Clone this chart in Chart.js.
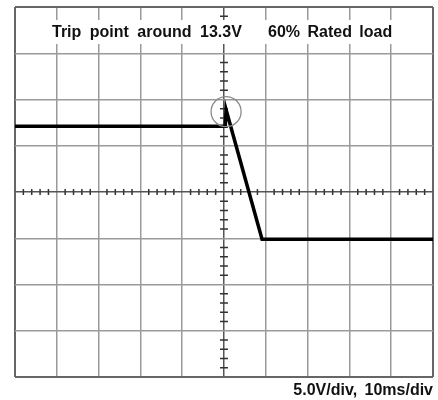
<!DOCTYPE html>
<html>
<head>
<meta charset="utf-8">
<script src="https://cdn.jsdelivr.net/npm/chart.js@4.4.1/dist/chart.umd.min.js"></script>
<style>
  html, body { margin: 0; padding: 0; background: #fff; }
  #wrap { width: 438px; height: 400px; position: relative; }
</style>
</head>
<body>
<div id="wrap"><canvas id="scope"></canvas></div>
<script>
// Captured trace: time in ms, voltage in V
const timeMs = [0, 50.3, 50.5, 59.1, 100];
const voltage = [11.5, 11.5, 13.3, -0.7, -0.7];
const tripIndex = 2;               // sample where the trip happens

// Screen settings
const voltsPerDiv = 5.0;
const msPerDiv = 10;
const vDivs = 8, hDivs = 10;
const vMin = -15.6;                 // bottom of screen (ground offset)
const vMax = vMin + vDivs * voltsPerDiv;

const headline = ["Trip point around 13.3V", "60% Rated load"];
const scaleNote = "5.0V/div, 10ms/div";

const FONT = "bold 16px 'Liberation Sans', Arial, sans-serif";

// write text word by word with a little extra spacing between words
function spacedText(ctx, text, x, y, gap, alignRight) {
  const words = text.split(' ');
  const space = ctx.measureText(' ').width + gap;
  const total = words.reduce((s, w) => s + ctx.measureText(w).width, 0) + space * (words.length - 1);
  let cx = alignRight ? x - total : x;
  ctx.textAlign = 'left';
  for (const w of words) {
    ctx.fillText(w, cx, y);
    cx += ctx.measureText(w).width + space;
  }
}

// Graticule extras: headline strip, minor ticks on the centre axes, trip marker, scale note
const scopeDecor = {
  id: 'scopeDecor',
  beforeDatasetsDraw(chart) {
    const { ctx, chartArea: a, scales: { x, y } } = chart;
    ctx.save();
    // headline strip
    ctx.fillStyle = '#fff';
    ctx.fillRect(a.left + 2, a.top + 13, a.right - a.left - 4, 24);
    ctx.fillStyle = '#111';
    ctx.font = FONT;
    ctx.textBaseline = 'middle';
    spacedText(ctx, headline[0], 52, a.top + 26, 4, false);
    spacedText(ctx, headline[1], 268, a.top + 26, 3, false);

    // minor ticks on centre axes (5 per division)
    const cx = x.getPixelForValue(hDivs / 2 * msPerDiv);
    const cy = y.getPixelForValue(vMin + vDivs / 2 * voltsPerDiv);
    ctx.strokeStyle = '#333';
    ctx.lineWidth = 1.5;
    ctx.beginPath();
    for (let i = 1; i < hDivs * 5; i++) {
      if (i % 5 === 0) continue;
      const px = x.getPixelForValue(i * msPerDiv / 5);
      ctx.moveTo(px, cy - 3); ctx.lineTo(px, cy + 3);
    }
    for (let i = 1; i < vDivs * 5; i++) {
      if (i % 5 === 0) continue;
      const py = y.getPixelForValue(vMin + i * voltsPerDiv / 5);
      if (py > a.top + 12 && py < a.top + 38) continue;
      ctx.moveTo(cx - 4, py); ctx.lineTo(cx + 4, py);
    }
    ctx.stroke();
    ctx.restore();
  },
  afterDatasetsDraw(chart) {
    const { ctx, scales: { x, y } } = chart;
    ctx.save();
    // circle round the trip point
    const px = x.getPixelForValue(timeMs[tripIndex]);
    const py = y.getPixelForValue(voltage[tripIndex]);
    ctx.strokeStyle = '#8a8a8a';
    ctx.lineWidth = 1.3;
    ctx.beginPath();
    ctx.arc(px, py + 2, 15, 0, Math.PI * 2);
    ctx.stroke();
    ctx.restore();
  },
  afterDraw(chart) {
    const { ctx } = chart;
    ctx.save();
    ctx.fillStyle = '#111';
    ctx.font = FONT;
    ctx.textBaseline = 'middle';
    spacedText(ctx, scaleNote, 433, 391, 3, true);
    ctx.restore();
  }
};

const gridColor = (ctx, centre) =>
  (ctx.index === centre) ? '#555' : ((ctx.index === 0 || ctx.index === 2 * centre) ? '#666' : '#9a9a9a');

new Chart(document.getElementById('scope'), {
  type: 'line',
  data: {
    datasets: [{
      data: timeMs.map((t, i) => ({ x: t, y: voltage[i] })),
      borderColor: '#000',
      borderWidth: 3.5,
      pointRadius: 0,
      tension: 0,
      fill: false
    }]
  },
  options: {
    responsive: true,
    maintainAspectRatio: false,
    animation: false,
    layout: { padding: { left: 15, right: 5, top: 7, bottom: 23 } },
    plugins: { legend: { display: false }, tooltip: { enabled: false }, title: { display: false } },
    scales: {
      x: {
        type: 'linear',
        min: 0,
        max: hDivs * msPerDiv,
        ticks: { display: false, stepSize: msPerDiv },
        grid: {
          drawTicks: false,
          lineWidth: (c) => (c.index === 0 || c.index === hDivs) ? 2 : 1.5,
          color: (c) => gridColor(c, hDivs / 2)
        },
        border: { display: false }
      },
      y: {
        type: 'linear',
        min: vMin,
        max: vMax,
        afterBuildTicks(scale) {
          const t = [];
          for (let k = 0; k <= vDivs; k++) t.push({ value: vMin + k * voltsPerDiv });
          scale.ticks = t;
        },
        ticks: { display: false },
        grid: {
          drawTicks: false,
          lineWidth: (c) => (c.index === 0 || c.index === vDivs) ? 2 : 1.5,
          color: (c) => gridColor(c, vDivs / 2)
        },
        border: { display: false }
      }
    }
  },
  plugins: [scopeDecor]
});
</script>
</body>
</html>
